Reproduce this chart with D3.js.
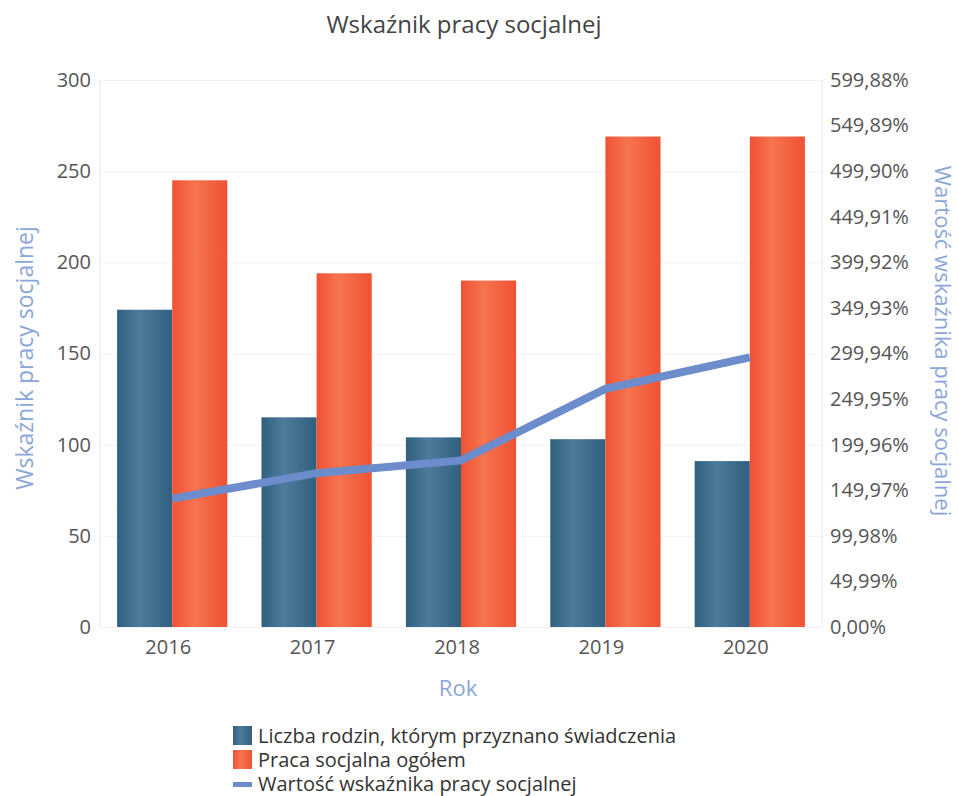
<!DOCTYPE html>
<head>
<meta charset="utf-8">
<title>Wskaźnik pracy socjalnej</title>
<style>
body { margin: 0; background: #fff; font-family: "Open Sans", sans-serif; }
.tick text { fill: #555; font-size: 20px; font-family: "Open Sans", sans-serif; }
.grid line { stroke: #f1f2f5; }
.grid path { display: none; }
</style>
</head>
<body>
<script src="https://d3js.org/d3.v7.min.js"></script>
<script>

// Data
var years = ["2016", "2017", "2018", "2019", "2020"];
var families = [174, 115, 104, 103, 91];        // Liczba rodzin, którym przyznano świadczenia
var socialWork = [245, 194, 190, 269, 269];     // Praca socjalna ogółem
var indicator = [140.8, 168.7, 182.7, 261.2, 295.6]; // Wartość wskaźnika (%)
var leftTicks = [0, 50, 100, 150, 200, 250, 300];
var rightTicks = ["0,00%", "49,99%", "99,98%", "149,97%", "199,96%", "249,95%", "299,94%",
                  "349,93%", "399,92%", "449,91%", "499,90%", "549,89%", "599,88%"];
var rightMax = 599.88;

var W = 958, H = 796;
var margin = {top: 80, right: 136, bottom: 169, left: 100},
    width = W - margin.left - margin.right,
    height = H - margin.top - margin.bottom;

var svg = d3.select("body").append("svg")
    .attr("width", W)
    .attr("height", H);

// gradients for the bars
var defs = svg.append("defs");
function grad(id, edge, mid) {
  var g = defs.append("linearGradient").attr("id", id)
      .attr("x1", "0%").attr("x2", "100%").attr("y1", "0%").attr("y2", "0%");
  g.append("stop").attr("offset", "0%").attr("stop-color", edge);
  g.append("stop").attr("offset", "40%").attr("stop-color", mid);
  g.append("stop").attr("offset", "100%").attr("stop-color", edge);
}
grad("gBlue", "#31607f", "#4c7b9b");
grad("gOrange", "#ef5233", "#f7744f");

var g = svg.append("g")
    .attr("transform", "translate(" + margin.left + "," + margin.top + ")");

var x = d3.scaleBand().domain(years).range([0, width]).padding(0);
var xi = d3.scaleBand().domain(["a", "b"]).range([0, x.bandwidth()]).paddingOuter(0.31).paddingInner(0);
var y = d3.scaleLinear().domain([0, 300]).range([height, 0]);
var y2 = d3.scaleLinear().domain([0, rightMax]).range([height, 0]);

// gridlines
g.append("g").attr("class", "grid")
  .call(d3.axisLeft(y).tickValues(leftTicks).tickSize(-width).tickFormat(""));

// frame lines left / right
g.append("line").attr("x1", 0).attr("x2", 0).attr("y1", 0).attr("y2", height)
  .attr("stroke", "#e6e8ec");
g.append("line").attr("x1", width).attr("x2", width).attr("y1", 0).attr("y2", height)
  .attr("stroke", "#e6e8ec");

// bars
var groups = g.selectAll(".yr").data(years).enter().append("g")
  .attr("transform", function(d) { return "translate(" + x(d) + ",0)"; });

groups.append("rect")
  .attr("x", xi("a"))
  .attr("width", xi.bandwidth())
  .attr("y", function(d, i) { return y(families[i]); })
  .attr("height", function(d, i) { return height - y(families[i]); })
  .attr("fill", "url(#gBlue)");

groups.append("rect")
  .attr("x", xi("b"))
  .attr("width", xi.bandwidth())
  .attr("y", function(d, i) { return y(socialWork[i]); })
  .attr("height", function(d, i) { return height - y(socialWork[i]); })
  .attr("fill", "url(#gOrange)");

// line
var line = d3.line()
  .x(function(d, i) { return x(years[i]) + x.bandwidth() / 2; })
  .y(function(d) { return y2(d); });

g.append("path")
  .datum(indicator)
  .attr("d", line)
  .attr("fill", "none")
  .attr("stroke", "#6d8ccb")
  .attr("stroke-width", 8);

// axes
var xAxis = g.append("g")
  .attr("transform", "translate(0," + height + ")")
  .call(d3.axisBottom(x).tickSize(0).tickPadding(13));
xAxis.select(".domain").remove();
xAxis.selectAll("text").attr("dx", -4);

var yAxis = g.append("g")
  .call(d3.axisLeft(y).tickValues(leftTicks).tickSize(0).tickPadding(9));
yAxis.select(".domain").remove();

var y2Axis = g.append("g")
  .attr("transform", "translate(" + width + ",0)")
  .call(d3.axisRight(y2)
    .tickValues(rightTicks.map(function(d, i) { return rightMax * i / 12; }))
    .tickFormat(function(d, i) { return rightTicks[i]; })
    .tickSize(0).tickPadding(8));
y2Axis.select(".domain").remove();

// titles
svg.append("text")
  .attr("x", 464).attr("y", 33)
  .attr("text-anchor", "middle")
  .attr("fill", "#444").style("font-size", "24px")
  .text("Wskaźnik pracy socjalnej");

svg.append("text")
  .attr("transform", "translate(33," + 358 + ") rotate(-90)")
  .attr("text-anchor", "middle")
  .attr("fill", "#8ba6d9").style("font-size", "23px")
  .text("Wskaźnik pracy socjalnej");

svg.append("text")
  .attr("transform", "translate(935," + 341 + ") rotate(90)")
  .attr("text-anchor", "middle")
  .attr("fill", "#8ba6d9").style("font-size", "22px")
  .text("Wartość wskaźnika pracy socjalnej");

svg.append("text")
  .attr("x", 458).attr("y", 696)
  .attr("text-anchor", "middle")
  .attr("fill", "#8ba6d9").style("font-size", "22px")
  .text("Rok");

// legend
var legendItems = [
  {name: "Liczba rodzin, którym przyznano świadczenia", type: "bar", fill: "url(#gBlue)"},
  {name: "Praca socjalna ogółem", type: "bar", fill: "url(#gOrange)"},
  {name: "Wartość wskaźnika pracy socjalnej", type: "line", fill: "#6d8ccb"}
];
var legend = svg.append("g").attr("transform", "translate(233,726)");
var li = legend.selectAll("g").data(legendItems).enter().append("g")
  .attr("transform", function(d, i) { return "translate(0," + (i * 24) + ")"; });
li.append("rect")
  .attr("x", 0)
  .attr("y", function(d) { return d.type === "bar" ? 0 : 8; })
  .attr("width", 19)
  .attr("height", function(d) { return d.type === "bar" ? 19 : 5; })
  .attr("fill", function(d) { return d.fill; });
li.append("text")
  .attr("x", 25).attr("y", 17)
  .attr("fill", "#333").style("font-size", "20px")
  .text(function(d) { return d.name; });

</script>
</body>
</html>
